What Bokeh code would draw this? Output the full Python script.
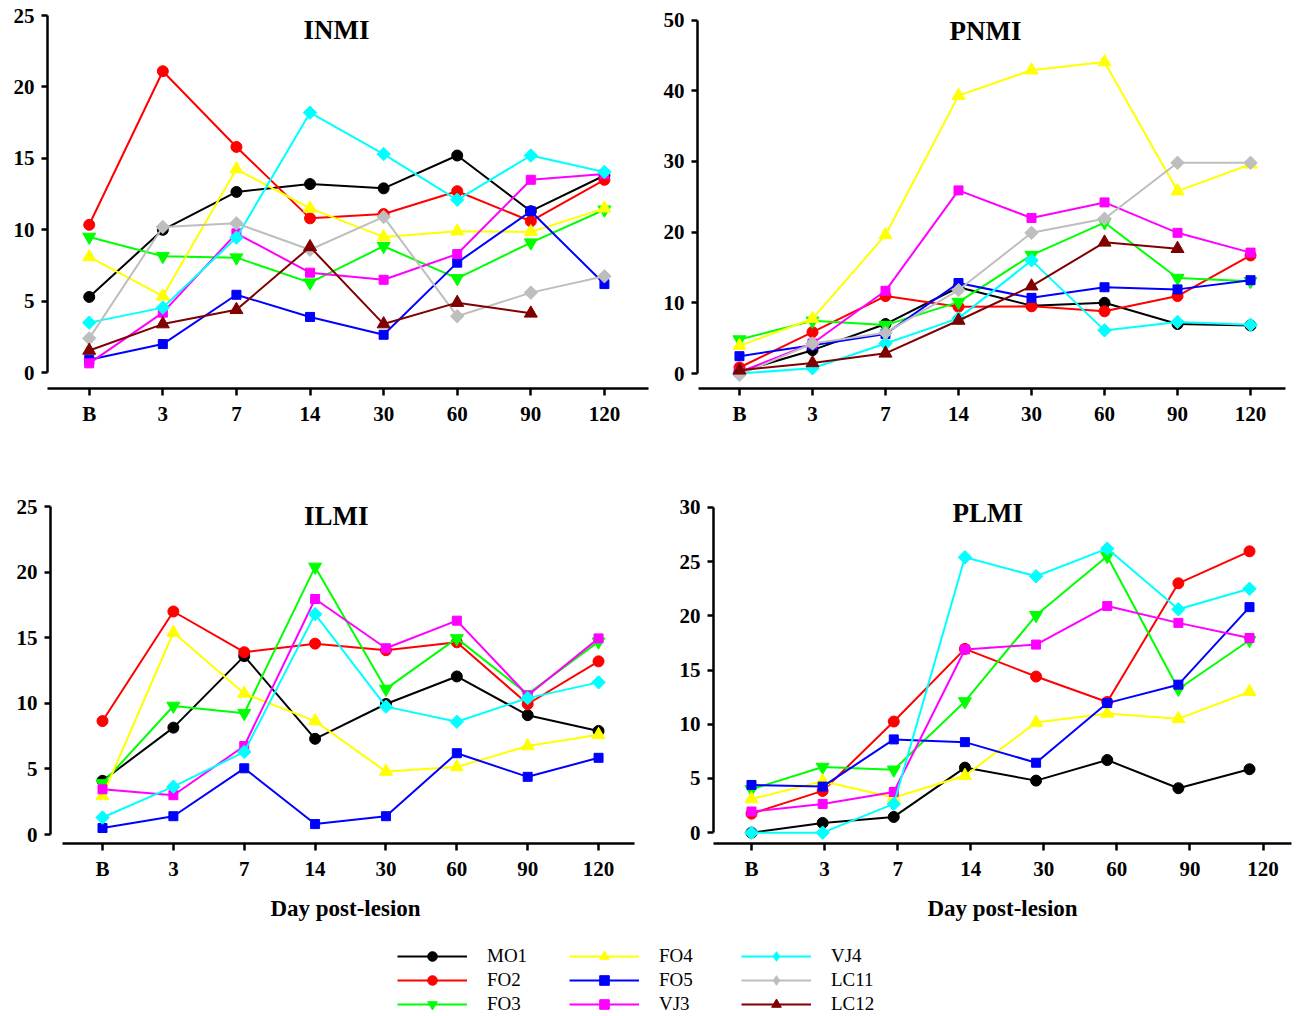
import math
from bokeh.plotting import figure
from bokeh.models import Range1d, LinearAxis, FixedTicker, Label, Legend, LegendItem
from bokeh.layouts import column, row
from bokeh.embed import file_html
from bokeh.resources import INLINE

NaN = float("nan")

days = ["B", "3", "7", "14", "30", "60", "90", "120"]
series_names = ["MO1", "FO2", "FO3", "FO4", "FO5", "VJ3", "VJ4", "LC11", "LC12"]

# ---------------- INMI ----------------
inmi_mo1 = [5.3, 10.0, 12.65, 13.2, 12.9, 15.2, 11.3, 13.8]
inmi_fo2 = [10.35, 21.1, 15.8, 10.8, 11.1, 12.7, 10.6, 13.5]
inmi_fo3 = [9.5, 8.15, 8.05, 6.3, 8.85, 6.6, 9.1, 11.4]
inmi_fo4 = [8.1, 5.35, 14.25, 11.5, 9.5, 9.9, 9.85, 11.5]
inmi_fo5 = [0.9, 2.0, 5.45, 3.9, 2.65, 7.7, 11.3, 6.2]
inmi_vj3 = [0.65, 4.2, 9.75, 7.0, 6.5, 8.3, 13.5, 13.9]
inmi_vj4 = [3.5, 4.55, 9.45, 18.2, 15.3, 12.1, 15.2, 14.05]
inmi_lc11 = [2.4, 10.2, 10.45, 8.6, 10.9, 3.95, 5.6, 6.75]
inmi_lc12 = [1.55, 3.4, 4.4, 8.8, 3.4, 4.9, 4.15, NaN]

# ---------------- PNMI ----------------
pnmi_mo1 = [0.25, 3.3, 7.0, 12.2, 9.6, 10.0, 7.0, 6.8]
pnmi_fo2 = [0.85, 5.85, 10.95, 9.45, 9.5, 8.8, 10.95, 16.7]
pnmi_fo3 = [4.8, 7.45, 6.85, 10.1, 16.75, 21.35, 13.5, 13.05]
pnmi_fo4 = [3.9, 7.75, 19.6, 39.3, 42.9, 44.05, 25.8, 29.6]
pnmi_fo5 = [2.45, 4.0, 5.6, 12.8, 10.7, 12.2, 11.9, 13.2]
pnmi_vj3 = [0.2, 4.25, 11.7, 25.9, 22.0, 24.2, 19.9, 17.1]
pnmi_vj4 = [0.0, 0.75, 4.25, 7.8, 16.0, 6.1, 7.3, 6.9]
pnmi_lc11 = [-0.2, 4.25, 5.75, 11.8, 19.9, 21.9, 29.8, 29.8]
pnmi_lc12 = [0.45, 1.5, 2.85, 7.5, 12.35, 18.55, 17.65, NaN]

# ---------------- ILMI ----------------
ilmi_mo1 = [4.1, 8.15, 13.6, 7.3, 9.95, 12.05, 9.1, 7.9]
ilmi_fo2 = [8.65, 17.0, 13.9, 14.55, 14.05, 14.65, 9.95, 13.2]
ilmi_fo3 = [3.9, 9.8, 9.25, 20.4, 11.1, 14.95, 10.7, 14.7]
ilmi_fo4 = [2.95, 15.4, 10.75, 8.65, 4.8, 5.15, 6.75, 7.6]
ilmi_fo5 = [0.5, 1.4, 5.05, 0.8, 1.4, 6.2, 4.4, 5.85]
ilmi_vj3 = [3.45, 3.0, 6.75, 17.95, 14.2, 16.3, 10.6, 14.95]
ilmi_vj4 = [1.3, 3.65, 6.3, 16.8, 9.75, 8.6, 10.4, 11.6]

# ---------------- PLMI ----------------
plmi_mo1 = [0.0, 0.9, 1.45, 6.0, 4.8, 6.7, 4.1, 5.85]
plmi_fo2 = [1.75, 3.85, 10.25, 16.95, 14.4, 12.05, 23.0, 25.95]
plmi_fo3 = [4.0, 6.05, 5.8, 12.1, 20.05, 25.5, 13.25, 17.75]
plmi_fo4 = [3.1, 4.75, 3.25, 5.25, 10.15, 11.0, 10.5, 13.0]
plmi_fo5 = [4.4, 4.25, 8.6, 8.35, 6.45, 11.95, 13.65, 20.8]
plmi_vj3 = [1.95, 2.65, 3.75, 16.9, 17.35, 20.9, 19.35, 17.95]
plmi_vj4 = [0.0, 0.0, 2.65, 25.4, 23.65, 26.2, 20.6, 22.5]

# colour, marker, size, angle, legend marker
styles = {
    "MO1": ("#000000", "circle", 11, 0.0, "circle"),
    "FO2": ("#FF0000", "circle", 11, 0.0, "circle"),
    "FO3": ("#00FF00", "inverted_triangle", 13, 0.0, "inverted_triangle"),
    "FO4": ("#FFFF00", "triangle", 13, 0.0, "triangle"),
    "FO5": ("#0000FF", "square", 9, 0.0, "square"),
    "VJ3": ("#FF00FF", "square", 9, 0.0, "square"),
    "VJ4": ("#00FFFF", "square", 9.5, math.pi / 4, "diamond"),
    "LC11": ("#BEBEBE", "square", 9.5, math.pi / 4, "diamond"),
    "LC12": ("#800000", "triangle", 13, 0.0, "triangle"),
}

FONT = "Liberation Serif"
xs = list(range(len(days)))


def make_panel(title, data, W, H, mbl, mbr, mbt, mbb, xr, yr, ymax, ystep,
               xbounds, title_xy, xlabel=None, axis_range=None):
    p = figure(width=W, height=H, x_range=Range1d(*xr), y_range=Range1d(*yr),
               x_axis_location=None, y_axis_location=None,
               output_backend="svg", toolbar_location=None,
               min_border_left=mbl, min_border_right=mbr,
               min_border_top=mbt, min_border_bottom=mbb,
               outline_line_color=None, background_fill_color="white",
               border_fill_color="white")
    p.xgrid.grid_line_color = None
    p.ygrid.grid_line_color = None
    p.grid.visible = False

    for name in series_names:
        if name not in data:
            continue
        col, mk, sz, ang, _ = styles[name]
        vals = data[name]
        p.line(xs, vals, line_color=col, line_width=2)
        p.scatter(xs, vals, marker=mk, size=sz, angle=ang,
                  fill_color=col, line_color=col)

    yax = LinearAxis(ticker=FixedTicker(ticks=list(range(0, ymax + 1, ystep))),
                     bounds=(0, ymax))
    kw = {}
    if axis_range is not None:
        p.extra_x_ranges = {"ax": Range1d(*axis_range)}
        kw["x_range_name"] = "ax"
    xax = LinearAxis(ticker=FixedTicker(ticks=xs),
                     major_label_overrides={i: d for i, d in enumerate(days)},
                     bounds=xbounds, **kw)
    for ax in (yax, xax):
        ax.axis_line_width = 2.5
        ax.axis_line_color = "black"
        ax.major_tick_line_width = 2.5
        ax.major_tick_in = 0
        ax.minor_tick_in = 0
        ax.minor_tick_out = 0
        ax.major_label_text_font = FONT
        ax.major_label_text_font_style = "bold"
        ax.major_label_text_font_size = "21px"
        ax.major_label_text_color = "black"
    yax.major_tick_out = 6
    yax.major_label_standoff = 7
    xax.major_tick_out = 7
    xax.major_label_standoff = 6
    if xlabel:
        xax.axis_label = xlabel
        xax.axis_label_text_font = FONT
        xax.axis_label_text_font_style = "bold"
        xax.axis_label_text_font_size = "23px"
        xax.axis_label_text_color = "black"
        xax.axis_label_standoff = 12
    p.add_layout(yax, "left")
    p.add_layout(xax, "below")

    p.add_layout(Label(x=title_xy[0], y=title_xy[1], text=title,
                       text_align="center", text_baseline="middle",
                       text_font=FONT, text_font_style="bold",
                       text_font_size="27px", text_color="black"))
    return p


inmi = dict(MO1=inmi_mo1, FO2=inmi_fo2, FO3=inmi_fo3, FO4=inmi_fo4, FO5=inmi_fo5,
            VJ3=inmi_vj3, VJ4=inmi_vj4, LC11=inmi_lc11, LC12=inmi_lc12)
pnmi = dict(MO1=pnmi_mo1, FO2=pnmi_fo2, FO3=pnmi_fo3, FO4=pnmi_fo4, FO5=pnmi_fo5,
            VJ3=pnmi_vj3, VJ4=pnmi_vj4, LC11=pnmi_lc11, LC12=pnmi_lc12)
ilmi = dict(MO1=ilmi_mo1, FO2=ilmi_fo2, FO3=ilmi_fo3, FO4=ilmi_fo4, FO5=ilmi_fo5,
            VJ3=ilmi_vj3, VJ4=ilmi_vj4)
plmi = dict(MO1=plmi_mo1, FO2=plmi_fo2, FO3=plmi_fo3, FO4=plmi_fo4, FO5=plmi_fo5,
            VJ3=plmi_vj3, VJ4=plmi_vj4)

p1 = make_panel("INMI", inmi, 652, 448, 47, 2, 13, 57,
                (-0.567, 7.626), (-1.11, 25.14), 25, 5,
                (-0.567, 7.6), (3.36, 23.96))
p2 = make_panel("PNMI", pnmi, 640, 448, 45, 4, 13, 60,
                (-0.575, 7.52), (-2.12, 50.92), 50, 10,
                (-0.56, 7.48), (3.37, 48.5))
p3 = make_panel("ILMI", ilmi, 652, 478, 50, 12, 51, 83,
                (-0.734, 7.592), (-0.68, 25.23), 25, 5,
                (-0.565, 7.51), (3.30, 24.25), xlabel="Day post-lesion")
p4 = make_panel("PLMI", plmi, 640, 478, 61, 1, 55, 78,
                (-0.534, 7.59), (-1.0, 30.36), 30, 5,
                "auto", (3.32, 29.45), xlabel="Day post-lesion",
                axis_range=(-0.52, 7.39))

# ---------------- legend strip ----------------
# the legend's proxy renderers carry the INMI series, kept outside the visible range
leg = figure(width=1292, height=90, x_range=Range1d(100, 101), y_range=Range1d(100, 101),
             x_axis_location=None, y_axis_location=None,
             output_backend="svg", toolbar_location=None,
             min_border=0, outline_line_color=None)
leg.grid.visible = False
items = []
for name in series_names:
    col, mk, sz, ang, lmk = styles[name]
    r1 = leg.line(xs, inmi[name], line_color=col, line_width=2)
    r2 = leg.scatter(xs, inmi[name], marker=lmk, size=sz,
                     fill_color=col, line_color=col)
    items.append(LegendItem(label=name, renderers=[r1, r2]))
legend = Legend(items=items, location=(397, 0), orientation="vertical", nrows=3,
                glyph_width=70, glyph_height=24, label_standoff=20, label_width=82,
                label_height=20, spacing=0, padding=0, margin=0,
                border_line_color=None, background_fill_alpha=0,
                label_text_font=FONT, label_text_font_size="19px",
                label_text_color="black")
leg.add_layout(legend, "center")

layout = column(row(p1, p2), row(p3, p4), leg)

open("out.html", "w").write(file_html(layout, INLINE))
